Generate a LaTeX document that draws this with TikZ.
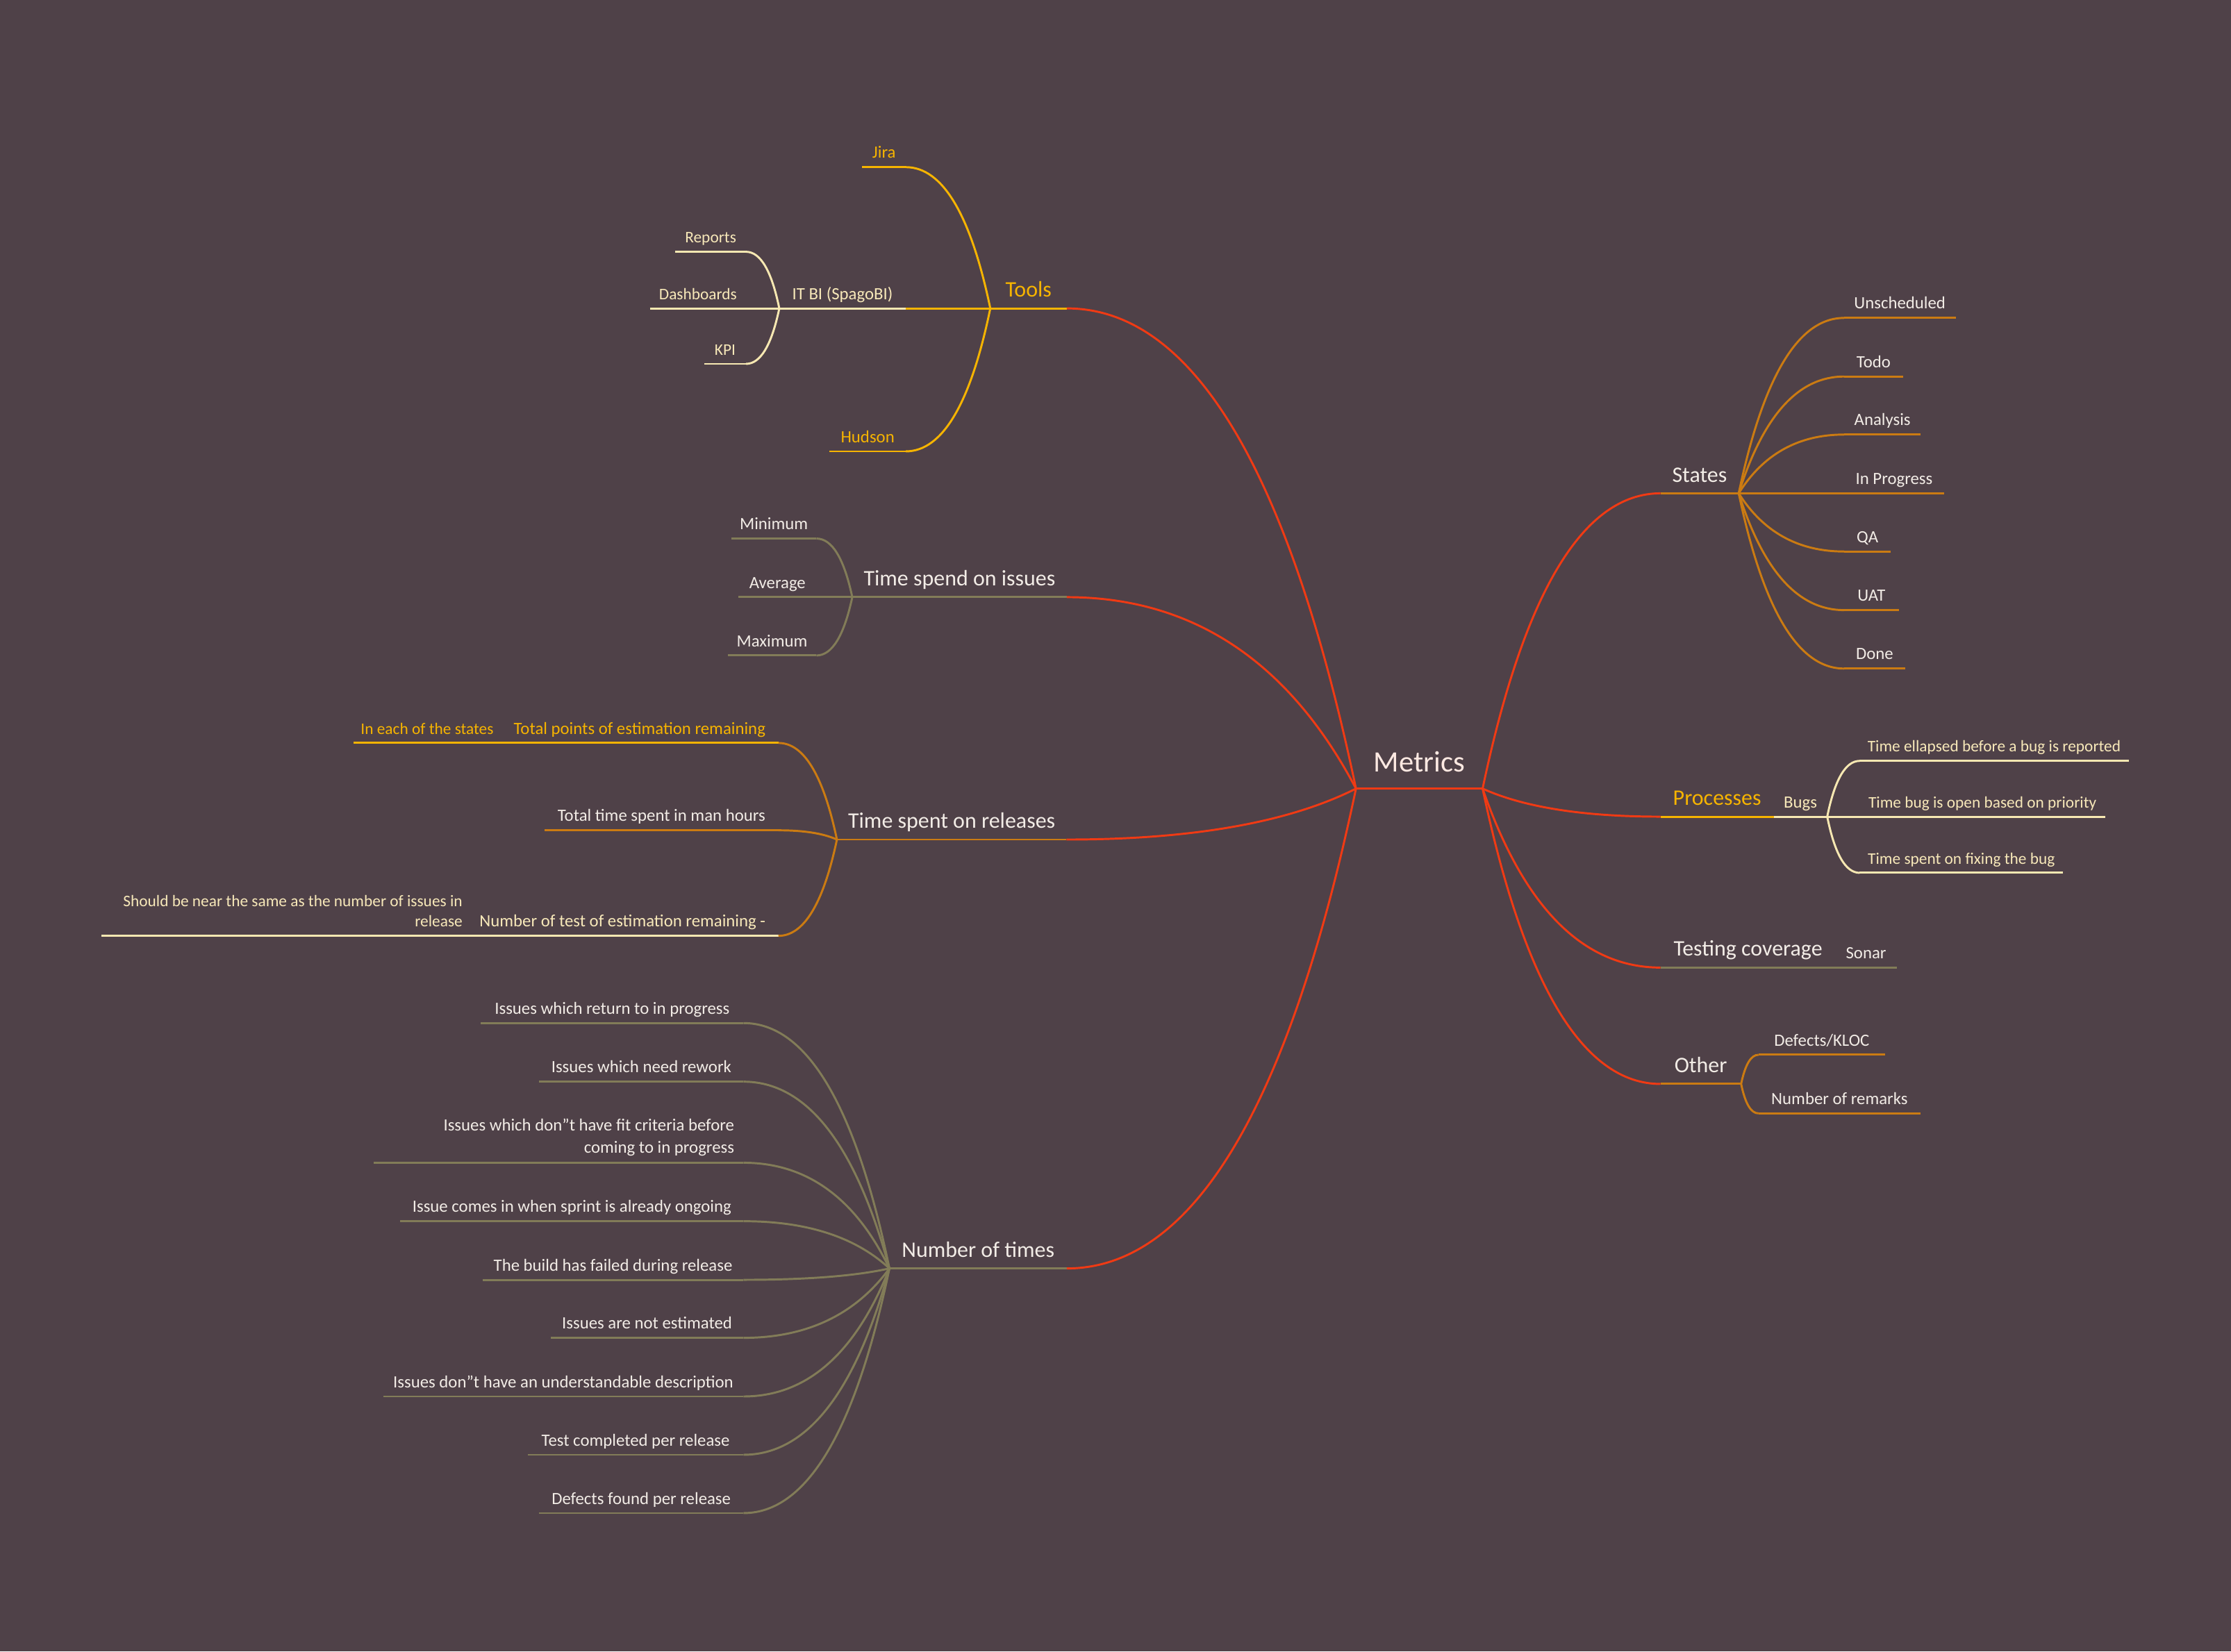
\documentclass[tikz,border=0pt]{standalone}
\usepackage{fontspec}
\setmainfont{Carlito}
\usetikzlibrary{calc}
\definecolor{bgc}{RGB}{79,65,72}
\definecolor{redc}{RGB}{240,58,20}
\definecolor{goldc}{RGB}{246,180,0}
\definecolor{brownc}{RGB}{203,123,18}
\definecolor{olivec}{RGB}{130,124,88}
\definecolor{creamc}{RGB}{247,232,178}
\definecolor{creamt}{RGB}{247,232,185}
\definecolor{txtc}{RGB}{242,236,230}
\definecolor{roottxt}{RGB}{253,233,226}
\tikzset{
  x=0.5pt, y=-0.5pt,
  every node/.style={inner sep=0pt, outer sep=0pt, anchor=base},
  ln/.style={line width=0.72pt},
  redl/.style={ln, draw=redc},
  goldl/.style={ln, draw=goldc},
  brownl/.style={ln, draw=brownc},
  olivel/.style={ln, draw=olivec},
  creaml/.style={ln, draw=creamc},
  f0/.style={font=\fontsize{10.4}{12.5}\selectfont, text=roottxt},
  f1/.style={font=\fontsize{7.8}{9.4}\selectfont, text=txtc},
  f2/.style={font=\fontsize{6.05}{8}\selectfont, text=txtc},
  f3/.style={font=\fontsize{5.7}{7}\selectfont, text=txtc},
  t0/.style={f0, yshift=5.85pt},
  t1/.style={f1, yshift=4pt},
  t2/.style={f2, yshift=3.15pt},
  t3/.style={f3, yshift=3.15pt},
}
% #1 name, #2 left x, #3 right x, #4 y, #5 line style, #6 text style, #7 text
\newcommand\mmnode[7]{%
  \coordinate (#1-a) at (#2,#4);
  \coordinate (#1-b) at (#3,#4);
  \draw[#5] (#1-a) -- (#1-b);
  \node[#6] (#1) at ($(#1-a)!0.5!(#1-b)$) {#7};
}
% curved connector: vertical start at #1, horizontal end at #2
\newcommand\curveconn[3]{%
  \draw[#3] let \p1=(#1), \p2=(#2) in (\p1) .. controls ({\x1+0.233*(\x2-\x1)},{\y1+0.667*(\y2-\y1)}) and ({\x1+0.567*(\x2-\x1)},{\y2}) .. (\p2);
}
\begin{document}
\begin{tikzpicture}
\fill[bgc] (0,0) rectangle (1568,1161);
\useasboundingbox (0,0) rectangle (1568,1161);

% root
\mmnode{root}{953}{1042}{554.4}{redl}{t0}{Metrics}

% ---- Tools
\mmnode{tools}{696}{749.8}{216.8}{goldl}{t1,text=goldc}{Tools}
\mmnode{jira}{606}{636.6}{117.5}{goldl}{t2,text=goldc}{Jira}
\mmnode{itbi}{547.7}{636.6}{216.8}{creaml}{t2,text=creamt}{IT BI (SpagoBI)}
\mmnode{reports}{474.6}{524.3}{177}{creaml}{t3,text=creamt}{Reports}
\mmnode{dash}{456.8}{524.3}{216.8}{creaml}{t3,text=creamt}{Dashboards}
\mmnode{kpi}{494.9}{524.3}{255.8}{creaml}{t3,text=creamt}{KPI}
\mmnode{hudson}{583}{636.6}{317.3}{goldl}{t2,text=goldc}{Hudson}
\curveconn{tools-a}{jira-b}{goldl}
\draw[goldl] (tools-a) -- (itbi-b);
\curveconn{tools-a}{hudson-b}{goldl}
\curveconn{itbi-a}{reports-b}{creaml}
\draw[creaml] (itbi-a) -- (dash-b);
\curveconn{itbi-a}{kpi-b}{creaml}

% ---- Time spend on issues
\mmnode{tsi}{599}{749.8}{419.8}{olivel}{t1}{Time spend on issues}
\mmnode{min}{514}{573.8}{378.6}{olivel}{t2}{Minimum}
\mmnode{avg}{519}{573.8}{419.8}{olivel}{t2}{Average}
\mmnode{max}{511.4}{573.8}{460.8}{olivel}{t2}{Maximum}
\curveconn{tsi-a}{min-b}{olivel}
\draw[olivel] (tsi-a) -- (avg-b);
\curveconn{tsi-a}{max-b}{olivel}

% ---- Time spent on releases
\mmnode{rel}{588.2}{749.5}{590.2}{brownl}{t1}{Time spent on releases}
\mmnode{tpts}{351.9}{547.1}{522.3}{goldl}{t2,text=goldc}{Total points of estimation remaining}
\mmnode{ineach}{248.5}{351.9}{522.3}{goldl}{t3,text=goldc}{In each of the states}
\mmnode{ttime}{382.7}{547.1}{583.7}{brownl}{t2}{Total time spent in man hours}
\mmnode{ntest}{327.9}{547.1}{657.9}{creaml}{t2,text=creamt}{Number of test of estimation remaining -}
\coordinate (near-a) at (71.4,657.9);
\coordinate (near-b) at (327.9,657.9);
\draw[creaml] (near-a) -- (near-b);
\node[f3, text=creamt, align=right, anchor=base east] (near) at (325,651.5)
  {Should be near the same as the number of issues in\\release};
\curveconn{rel-a}{tpts-b}{brownl}
\curveconn{rel-a}{ttime-b}{brownl}
\curveconn{rel-a}{ntest-b}{brownl}

% ---- Number of times
\mmnode{times}{625.1}{749.8}{891.7}{olivel}{t1}{Number of times}
\mmnode{nt1}{338}{522.5}{719.2}{olivel}{t2}{Issues which return to in progress}
\mmnode{nt2}{379}{522.5}{760.4}{olivel}{t2}{Issues which need rework}
\coordinate (nt3-a) at (262.8,817.4);
\coordinate (nt3-b) at (522.5,817.4);
\draw[olivel] (nt3-a) -- (nt3-b);
\node[font=\fontsize{6.05}{7.8}\selectfont, text=txtc, align=right, anchor=base east] (nt3) at (516,810.8)
  {Issues which don"t have fit criteria before\\coming to in progress};
\mmnode{nt4}{281.4}{522.5}{858.5}{olivel}{t2}{Issue comes in when sprint is already ongoing}
\mmnode{nt5}{339.2}{522.5}{899.7}{olivel}{t2}{The build has failed during release}
\mmnode{nt6}{387}{522.5}{940.5}{olivel}{t2}{Issues are not estimated}
\mmnode{nt7}{269.3}{522.5}{981.7}{olivel}{t2}{Issues don"t have an understandable description}
\mmnode{nt8}{370.9}{522.5}{1022.7}{olivel}{t2}{Test completed per release}
\mmnode{nt9}{378.8}{522.5}{1063.7}{olivel}{t2}{Defects found per release}
\foreach \k in {nt1,nt2,nt3,nt4,nt5,nt6,nt7,nt8,nt9}{\curveconn{times-a}{\k-b}{olivel}}

% ---- States
\mmnode{states}{1167}{1222}{346.8}{brownl}{t1}{States}
\mmnode{st1}{1296}{1374.5}{223.5}{brownl}{t2}{Unscheduled}
\mmnode{st2}{1296}{1337.6}{264.7}{brownl}{t2}{Todo}
\mmnode{st3}{1296}{1350}{305.5}{brownl}{t2}{Analysis}
\mmnode{st4}{1296}{1366.4}{346.8}{brownl}{t2}{In Progress}
\mmnode{st5}{1296}{1329}{387.7}{brownl}{t2}{QA}
\mmnode{st6}{1296}{1334.6}{428.9}{brownl}{t2}{UAT}
\mmnode{st7}{1296}{1339}{470}{brownl}{t2}{Done}
\foreach \k in {st1,st2,st3,st5,st6,st7}{\curveconn{states-b}{\k-a}{brownl}}
\draw[brownl] (states-b) -- (st4-a);

% ---- Processes
\mmnode{proc}{1167}{1246.6}{574.1}{goldl}{t1,text=goldc}{Processes}
\mmnode{bugs}{1246.6}{1284.2}{574.1}{creaml}{t2,text=creamt}{Bugs}
\mmnode{bg1}{1307}{1496}{534.9}{creaml}{t3,text=creamt}{Time ellapsed before a bug is reported}
\mmnode{bg2}{1307}{1479.6}{574.1}{creaml}{t3,text=creamt}{Time bug is open based on priority}
\mmnode{bg3}{1307}{1450}{613.6}{creaml}{t3,text=creamt}{Time spent on fixing the bug}
\curveconn{bugs-b}{bg1-a}{creaml}
\draw[creaml] (bugs-b) -- (bg2-a);
\curveconn{bugs-b}{bg3-a}{creaml}

% ---- Testing coverage
\mmnode{test}{1167}{1290}{680.2}{olivel}{t1}{Testing coverage}
\mmnode{sonar}{1290}{1333}{680.2}{olivel}{t2}{Sonar}

% ---- Other
\mmnode{other}{1167}{1223.7}{762}{brownl}{t1}{Other}
\mmnode{oth1}{1235.9}{1324.9}{741.5}{brownl}{t2}{Defects/KLOC}
\mmnode{oth2}{1235.9}{1349.8}{782.7}{brownl}{t2}{Number of remarks}
\curveconn{other-b}{oth1-a}{brownl}
\curveconn{other-b}{oth2-a}{brownl}

% ---- root connectors
\foreach \k in {tools,tsi,rel,times}{\curveconn{root-a}{\k-b}{redl}}
\foreach \k in {states,proc,test,other}{\curveconn{root-b}{\k-a}{redl}}
\end{tikzpicture}
\end{document}
